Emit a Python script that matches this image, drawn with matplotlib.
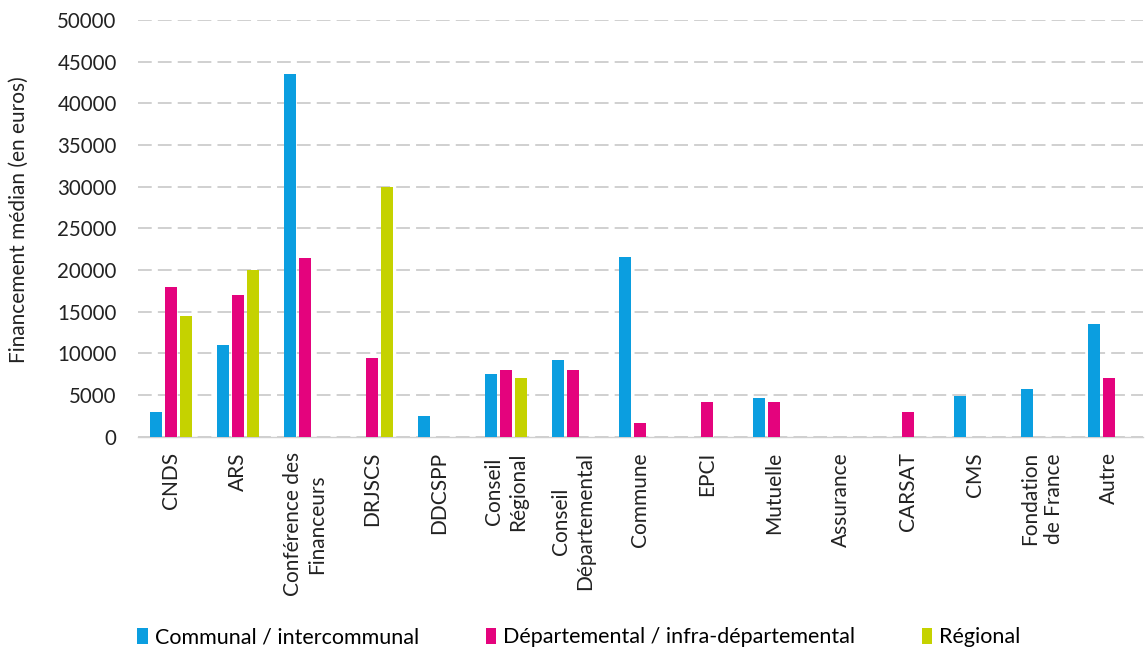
import numpy as np
import matplotlib
matplotlib.use('Agg')
import matplotlib.pyplot as plt
from matplotlib.patches import Patch

plt.rcParams['font.family'] = ['Lato', 'DejaVu Sans']

categories = ["CNDS", "ARS", "Conférence des\nFinanceurs", "DRJSCS", "DDCSPP",
              "Conseil\nRégional", "Conseil\nDépartemental", "Commune", "EPCI",
              "Mutuelle", "Assurance", "CARSAT", "CMS", "Fondation\nde France", "Autre"]
communal = [3000, 11000, 43500, 0, 2500, 7500, 9200, 21600, 0, 4600, 0, 0, 4900, 5700, 13500]
departemental = [18000, 17000, 21500, 9500, 0, 8000, 8000, 1700, 4200, 4200, 0, 3000, 0, 0, 7000]
regional = [14500, 20000, 0, 30000, 0, 7000, 0, 0, 0, 0, 0, 0, 0, 0, 0]
series_names = ["Communal / intercommunal", "Départemental / infra-départemental", "Régional"]
colors = ['#0b9ee0', '#e4037d', '#c5d200']

fig = plt.figure(figsize=(11.46, 6.49), dpi=100)
ax = fig.add_axes([0.12, 0.327, 0.877, 0.642])

x = np.arange(len(categories))
step = 0.22
width = 0.175
for i, vals in enumerate([communal, departemental, regional]):
    ax.bar(x + (i - 1) * step, vals, width=width, color=colors[i], zorder=3)

ax.set_xlim(-0.5, len(categories) - 0.5)
ax.set_ylim(0, 50000)
ax.set_yticks(np.arange(0, 50001, 5000))
ax.yaxis.grid(True, color='#c4c4c4', linestyle=(0, (9, 4)), linewidth=1.1, zorder=0)
ax.set_axisbelow(True)

ax.set_xticks(x)
ax.set_xticklabels(categories, rotation=90, fontsize=15, color='#222222',
                   multialignment='center')
ax.tick_params(axis='x', length=0, pad=11)
ax.tick_params(axis='y', length=0, pad=15, labelsize=14.8, labelcolor='#222222')

for side in ['top', 'right', 'left']:
    ax.spines[side].set_visible(False)
ax.spines['bottom'].set_color('#d0d0d0')
ax.spines['bottom'].set_linewidth(1)

ax.set_ylabel("Financement médian (en euros)", fontsize=15, color='#222222')
ax.yaxis.set_label_coords(-0.108, 0.52)

handles = [Patch(facecolor=c) for c in colors]
fig.legend(handles, series_names, loc='center', bbox_to_anchor=(0.505, 0.018),
           ncol=3, frameon=False, fontsize=15.5, handlelength=0.5, handleheight=0.75,
           handletextpad=0.3, columnspacing=3.1)

fig.savefig('out.png', dpi=100)
